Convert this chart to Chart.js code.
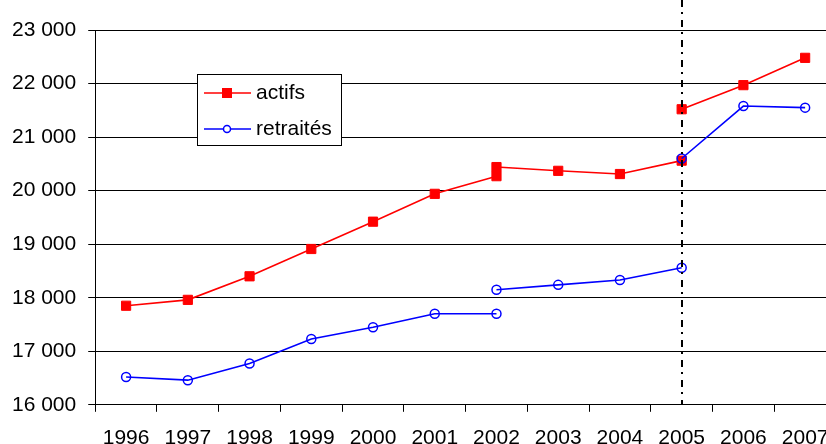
<!DOCTYPE html>
<html>
<head>
<meta charset="utf-8">
<script src="https://cdn.jsdelivr.net/npm/chart.js@4"></script>
<style>
  html, body { margin: 0; padding: 0; background: #fff; overflow: hidden; }
  #wrap { width: 826px; height: 444px; overflow: hidden; }
</style>
</head>
<body>
<div id="wrap"><canvas id="line-chart" width="846" height="468"></canvas></div>
<script>
// years on the x axis
const years = ['1996', '1997', '1998', '1999', '2000', '2001', '2002', '2003', '2004', '2005', '2006', '2007'];

// actifs : three pieces, series breaks in 2002 and 2005
const actifs1996_2002 = [17850, 17960, 18400, 18910, 19420, 19940, 20270];
const actifs2002_2005 = [20440, 20370, 20310, 20560];
const actifs2005_2007 = [21520, 21970, 22480];

// retraités : same breaks
const retraites1996_2002 = [16520, 16460, 16770, 17230, 17450, 17700, 17700];
const retraites2002_2005 = [18150, 18240, 18330, 18560];
const retraites2005_2007 = [20600, 21580, 21550];

const yMin = 16000;
const yMax = 23000;
const yStep = 1000;
const ruptureYear = '2005';

const FONT = "'Liberation Sans', Arial, sans-serif";

// join pieces, with a null point at each break so the line stops there
function toPoints(pieces) {
    let pts = [];
    pieces.forEach(([start, values], i) => {
        if (i > 0) pts.push({ x: start, y: null });
        let idx = years.indexOf(start);
        values.forEach((v, k) => pts.push({ x: years[idx + k], y: v }));
    });
    return pts;
}

function formatThousands(v) {
    return String(v).replace(/\B(?=(\d{3})+(?!\d))/g, ' ');
}

// dash-dot line at the series break
const ruptureLine = {
    id: 'ruptureLine',
    afterDatasetsDraw(chart) {
        const x = Math.round(chart.scales.x.getPixelForValue(years.indexOf(ruptureYear)));
        const ctx = chart.ctx;
        ctx.save();
        ctx.strokeStyle = '#000';
        ctx.lineWidth = 2;
        ctx.setLineDash([7, 5, 2, 6]);
        ctx.beginPath();
        ctx.moveTo(x, 0);
        ctx.lineTo(x, chart.chartArea.bottom);
        ctx.stroke();
        ctx.restore();
    }
};

// boxed legend inside the plot
const boxLegend = {
    id: 'boxLegend',
    afterDraw(chart) {
        const ctx = chart.ctx;
        const box = { x: 197, y: 74, w: 144, h: 71 };
        ctx.save();
        ctx.fillStyle = '#fff';
        ctx.fillRect(box.x, box.y, box.w, box.h);
        ctx.strokeStyle = '#000';
        ctx.lineWidth = 1;
        ctx.strokeRect(box.x + 0.5, box.y + 0.5, box.w, box.h);
        ctx.font = '21px ' + FONT;
        ctx.textBaseline = 'middle';
        chart.data.datasets.forEach((ds, i) => {
            const cy = box.y + 19 + i * 36;
            ctx.strokeStyle = ds.borderColor;
            ctx.lineWidth = 1.5;
            ctx.beginPath();
            ctx.moveTo(box.x + 7, cy);
            ctx.lineTo(box.x + 54, cy);
            ctx.stroke();
            if (ds.pointStyle === 'rect') {
                ctx.fillStyle = ds.borderColor;
                ctx.fillRect(box.x + 25, cy - 5, 10, 10);
            } else {
                ctx.fillStyle = '#fff';
                ctx.beginPath();
                ctx.arc(box.x + 30, cy, 3.5, 0, Math.PI * 2);
                ctx.fill();
                ctx.stroke();
            }
            ctx.fillStyle = '#000';
            ctx.fillText(ds.label, box.x + 59, cy);
        });
        ctx.restore();
    }
};

new Chart(document.getElementById('line-chart'), {
    type: 'line',
    data: {
        labels: years,
        datasets: [
            {
                label: 'actifs',
                data: toPoints([['1996', actifs1996_2002], ['2002', actifs2002_2005], ['2005', actifs2005_2007]]),
                borderColor: '#ff0000',
                backgroundColor: '#ff0000',
                borderWidth: 1.6,
                pointStyle: 'rect',
                pointRadius: 6.5,
                pointBorderWidth: 1,
                spanGaps: false,
                order: 1
            },
            {
                label: 'retraités',
                data: toPoints([['1996', retraites1996_2002], ['2002', retraites2002_2005], ['2005', retraites2005_2007]]),
                borderColor: '#0000ff',
                backgroundColor: 'rgba(0,0,0,0)',
                borderWidth: 1.6,
                pointStyle: 'circle',
                pointRadius: 4.5,
                pointBorderWidth: 1.5,
                spanGaps: false,
                order: 0
            }
        ]
    },
    options: {
        responsive: false,
        animation: false,
        events: [],
        layout: { padding: { left: 0, right: 10, top: 30, bottom: 3 } },
        plugins: {
            legend: { display: false },
            tooltip: { enabled: false }
        },
        scales: {
            x: {
                type: 'category',
                offset: true,
                grid: {
                    offset: true,
                    drawOnChartArea: false,
                    drawTicks: true,
                    tickLength: 7,
                    color: '#000'
                },
                border: { display: true, color: '#000', width: 1 },
                ticks: {
                    color: '#000',
                    font: { family: FONT, size: 21 },
                    padding: 14,
                    maxRotation: 0,
                    autoSkip: false
                }
            },
            y: {
                min: yMin,
                max: yMax,
                grid: {
                    color: '#000',
                    tickLength: 7,
                    drawTicks: true
                },
                border: { display: true, color: '#000', width: 1 },
                ticks: {
                    stepSize: yStep,
                    color: '#000',
                    font: { family: FONT, size: 21 },
                    padding: 12,
                    callback: (v) => formatThousands(v)
                }
            }
        }
    },
    plugins: [ruptureLine, boxLegend]
});
</script>
</body>
</html>
